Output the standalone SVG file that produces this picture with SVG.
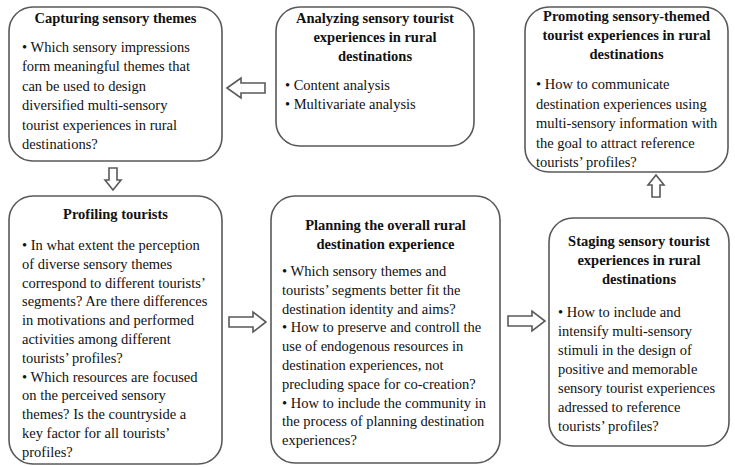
<svg xmlns="http://www.w3.org/2000/svg" width="735" height="467" viewBox="0 0 735 467">
<style>
.box{fill:#fff;stroke:#595959;stroke-width:1.6}
.arr{fill:#fff;stroke:#595959;stroke-width:1.6;stroke-linejoin:miter}
.tx{font-family:'Liberation Serif','Tinos','DejaVu Serif','Times New Roman',serif;font-size:14.5px;fill:#111}
.t{font-weight:bold;text-anchor:middle}
</style>
<rect width="735" height="467" fill="#fff"/>
<g id="connectors">
<path class="arr" d="M227,88 L241,78 L241,83 L265,83 L265,93 L241,93 L241,98 Z"/>
<path class="arr" d="M109,168 L117,168 L117,180 L121,180 L113,190 L105,180 L109,180 Z"/>
<path class="arr" d="M229,317 L253,317 L253,312 L266,322 L253,332 L253,327 L229,327 Z"/>
<path class="arr" d="M508,316 L532,316 L532,311 L545,321 L532,331 L532,326 L508,326 Z"/>
<path class="arr" d="M652,197 L660,197 L660,185 L664,185 L656,175 L648,185 L652,185 Z"/>
</g>
<g id="capturing" class="tx">
<rect class="box" x="9" y="7" width="213" height="154" rx="24"/>
<text class="t" x="115.5" y="23">Capturing sensory themes</text>
<text x="22" y="52">• Which sensory impressions</text>
<text x="22" y="71.4">form meaningful themes that</text>
<text x="22" y="90.8">can be used to design</text>
<text x="22" y="110.2">diversified multi-sensory</text>
<text x="22" y="129.6">tourist experiences in rural</text>
<text x="22" y="149">destinations?</text>
</g>
<g id="analyzing" class="tx">
<rect class="box" x="276" y="7" width="198" height="139" rx="24"/>
<text class="t" x="375" y="23">Analyzing sensory tourist</text>
<text class="t" x="375" y="42">experiences in rural</text>
<text class="t" x="375" y="61">destinations</text>
<text x="285" y="90">• Content analysis</text>
<text x="285" y="109">• Multivariate analysis</text>
</g>
<g id="promoting" class="tx">
<rect class="box" x="525" y="7" width="203" height="165" rx="24"/>
<text class="t" x="626.5" y="21">Promoting sensory-themed</text>
<text class="t" x="626.5" y="40">tourist experiences in rural</text>
<text class="t" x="626.5" y="59">destinations</text>
<text x="536" y="89">• How to communicate</text>
<text x="536" y="108.5">destination experiences using</text>
<text x="536" y="128">multi-sensory information with</text>
<text x="536" y="147.5">the goal to attract reference</text>
<text x="536" y="167">tourists’ profiles?</text>
</g>
<g id="profiling" class="tx">
<rect class="box" x="9" y="196" width="213" height="268" rx="24"/>
<text class="t" x="115.5" y="219">Profiling tourists</text>
<text x="22" y="250">• In what extent the perception</text>
<text x="22" y="268.8">of diverse sensory themes</text>
<text x="22" y="287.6">correspond to different tourists’</text>
<text x="22" y="306.4">segments? Are there differences</text>
<text x="22" y="325.2">in motivations and performed</text>
<text x="22" y="344">activities among different</text>
<text x="22" y="362.8">tourists’ profiles?</text>
<text x="22" y="381.6">• Which resources are focused</text>
<text x="22" y="400.4">on the perceived sensory</text>
<text x="22" y="419.2">themes? Is the countryside a</text>
<text x="22" y="438">key factor for all tourists’</text>
<text x="22" y="456.8">profiles?</text>
</g>
<g id="planning" class="tx">
<rect class="box" x="271" y="196" width="229" height="267" rx="24"/>
<text class="t" x="385.5" y="230">Planning the overall rural</text>
<text class="t" x="385.5" y="249">destination experience</text>
<text x="282" y="276">• Which sensory themes and</text>
<text x="282" y="294.8">tourists’ segments better fit  the</text>
<text x="282" y="313.6">destination identity and aims?</text>
<text x="282" y="332.4">• How to preserve and controll the</text>
<text x="282" y="351.2">use of endogenous resources in</text>
<text x="282" y="370">destination experiences, not</text>
<text x="282" y="388.8">precluding space for co-creation?</text>
<text x="282" y="407.6">• How to include the community in</text>
<text x="282" y="426.4">the process of planning destination</text>
<text x="282" y="445.2">experiences?</text>
</g>
<g id="staging" class="tx">
<rect class="box" x="549" y="218" width="180" height="228" rx="24"/>
<text class="t" x="639" y="246">Staging sensory tourist</text>
<text class="t" x="639" y="265">experiences in rural</text>
<text class="t" x="639" y="284">destinations</text>
<text x="558" y="317">• How to include and</text>
<text x="558" y="336">intensify multi-sensory</text>
<text x="558" y="355">stimuli in the design of</text>
<text x="558" y="374">positive and memorable</text>
<text x="558" y="393">sensory tourist experiences</text>
<text x="558" y="412">adressed to reference</text>
<text x="558" y="431">tourists’ profiles?</text>
</g>
</svg>
